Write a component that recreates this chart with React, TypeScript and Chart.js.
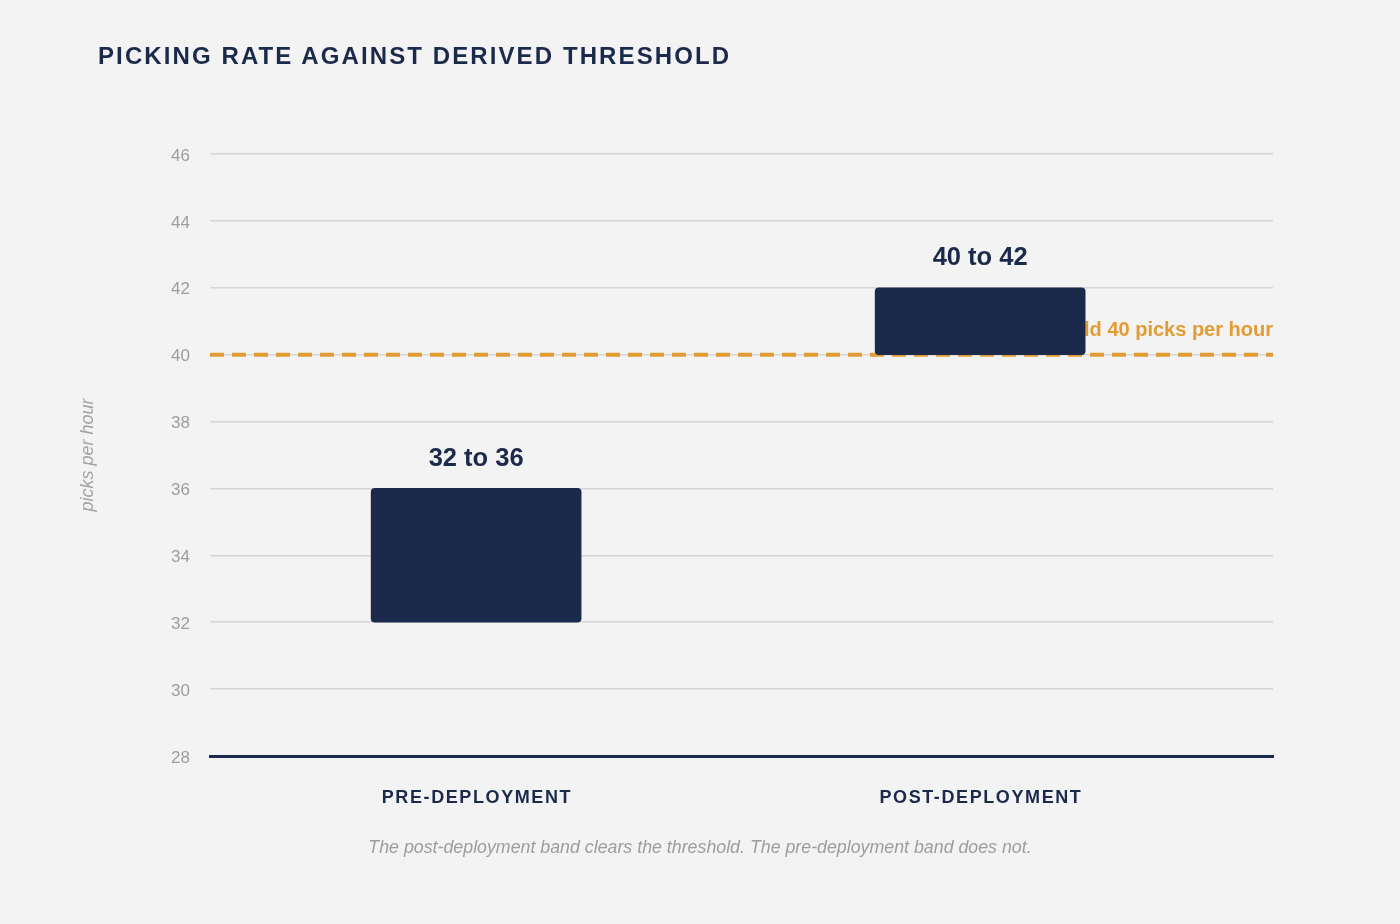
import React, { useEffect, useRef } from "react";
import { Chart, registerables } from "chart.js";

Chart.register(...registerables);

const categories = ["PRE-DEPLOYMENT", "POST-DEPLOYMENT"];
const bandLowValues = [32, 40];
const bandHighValues = [36, 42];
const threshold = 40;
const thresholdLabel = "Derived threshold 40 picks per hour";
const yTicks = [28, 30, 32, 34, 36, 38, 40, 42, 44, 46];

const NAVY = "#1b2a4a";
const ORANGE = "#e39c33";
const FONT = "'Liberation Sans', Arial, Helvetica, sans-serif";

const overlayPlugin = {
  id: "overlay",
  beforeDatasetsDraw(chart: any) {
    const { ctx, chartArea } = chart;
    const y = chart.scales.y.getPixelForValue(threshold);
    ctx.save();
    ctx.strokeStyle = ORANGE;
    ctx.lineWidth = 4;
    ctx.setLineDash([14, 8]);
    ctx.beginPath();
    ctx.moveTo(chartArea.left, y);
    ctx.lineTo(chartArea.right, y);
    ctx.stroke();
    ctx.setLineDash([]);
    ctx.fillStyle = ORANGE;
    ctx.font = `bold 20px ${FONT}`;
    ctx.textAlign = "right";
    ctx.textBaseline = "alphabetic";
    ctx.fillText(thresholdLabel, chartArea.right, y - 19);
    ctx.restore();
  },
  afterDatasetsDraw(chart: any) {
    const { ctx } = chart;
    const meta = chart.getDatasetMeta(0);
    ctx.save();
    ctx.fillStyle = NAVY;
    ctx.font = `bold 25.5px ${FONT}`;
    ctx.textAlign = "center";
    ctx.textBaseline = "alphabetic";
    meta.data.forEach((bar: any, i: number) => {
      const top = Math.min(bar.y, bar.base);
      ctx.fillText(`${bandLowValues[i]} to ${bandHighValues[i]}`, bar.x, top - 22.5);
    });
    ctx.restore();
  },
  afterDraw(chart: any) {
    const { ctx, chartArea } = chart;
    const xs = chart.scales.x;
    ctx.save();
    ctx.fillStyle = NAVY;
    ctx.font = `bold 18px ${FONT}`;
    (ctx as any).letterSpacing = "1.6px";
    ctx.textAlign = "center";
    ctx.textBaseline = "alphabetic";
    categories.forEach((c, i) => {
      ctx.fillText(c, xs.getPixelForValue(i) + 0.8, chartArea.bottom + 47);
    });
    ctx.restore();
  },
};

export default function App() {
  const ref = useRef<HTMLCanvasElement>(null);

  useEffect(() => {
    document.body.style.margin = "0";
    document.body.style.background = "#f3f3f3";
    const canvas = ref.current!;
    const chart = new Chart(canvas, {
      type: "bar",
      data: {
        datasets: [
          {
            data: categories.map((_, i) => ({ x: i, y: [bandLowValues[i], bandHighValues[i]] })) as any,
            backgroundColor: NAVY,
            borderRadius: 4,
            borderSkipped: false,
            barThickness: 210,
          },
        ],
      },
      options: {
        animation: false,
        responsive: false,
        events: [],
        layout: { padding: { left: 73, top: 154, right: 127, bottom: 0 } },
        plugins: {
          legend: { display: false },
          tooltip: { enabled: false },
          title: { display: false },
        },
        scales: {
          x: {
            type: "linear",
            offset: false,
            min: -0.528,
            max: 1.581,
            grid: { display: false, offset: false },
            border: { display: true, color: NAVY, width: 3 },
            ticks: { display: false },
            afterFit: (s: any) => {
              s.height = 168;
            },
          },
          y: {
            type: "linear",
            min: yTicks[0],
            max: yTicks[yTicks.length - 1],
            afterBuildTicks: (s: any) => {
              s.ticks = yTicks.map((v) => ({ value: v }));
            },
            ticks: {
              color: "#9d9d9d",
              font: { family: FONT, size: 17 },
              padding: 20,
              labelOffset: 2,
            },
            grid: {
              drawTicks: false,
              lineWidth: 1.5,
              color: (c: any) => (c.tick && c.tick.value === yTicks[0] ? "rgba(0,0,0,0)" : "#d6d6d6"),
            },
            border: { display: false },
            title: {
              display: true,
              text: "picks per hour",
              color: "#a3a3a3",
              font: { family: FONT, size: 18, style: "italic" },
              padding: { top: 4, bottom: 4 },
            },
            afterFit: (s: any) => {
              s.width = 137;
            },
          },
        },
      },
      plugins: [overlayPlugin],
    });
    return () => chart.destroy();
  }, []);

  return (
    <div style={{ position: "relative", width: 1400, height: 924, background: "#f3f3f3", overflow: "hidden" }}>
      <canvas ref={ref} width={1400} height={924} style={{ position: "absolute", left: 0, top: 0, width: 1400, height: 924 }} />
      <div
        style={{
          position: "absolute",
          left: 98,
          top: 44,
          fontFamily: FONT,
          fontWeight: "bold",
          fontSize: 24,
          lineHeight: "24px",
          letterSpacing: "2.1px",
          color: NAVY,
          whiteSpace: "nowrap",
        }}
      >
        PICKING RATE AGAINST DERIVED THRESHOLD
      </div>
      <div
        style={{
          position: "absolute",
          left: 0,
          width: 1400,
          top: 838,
          textAlign: "center",
          fontFamily: FONT,
          fontStyle: "italic",
          fontSize: 17.8,
          lineHeight: "18px",
          color: "#9d9d9d",
          whiteSpace: "nowrap",
        }}
      >
        The post-deployment band clears the threshold. The pre-deployment band does not.
      </div>
    </div>
  );
}
